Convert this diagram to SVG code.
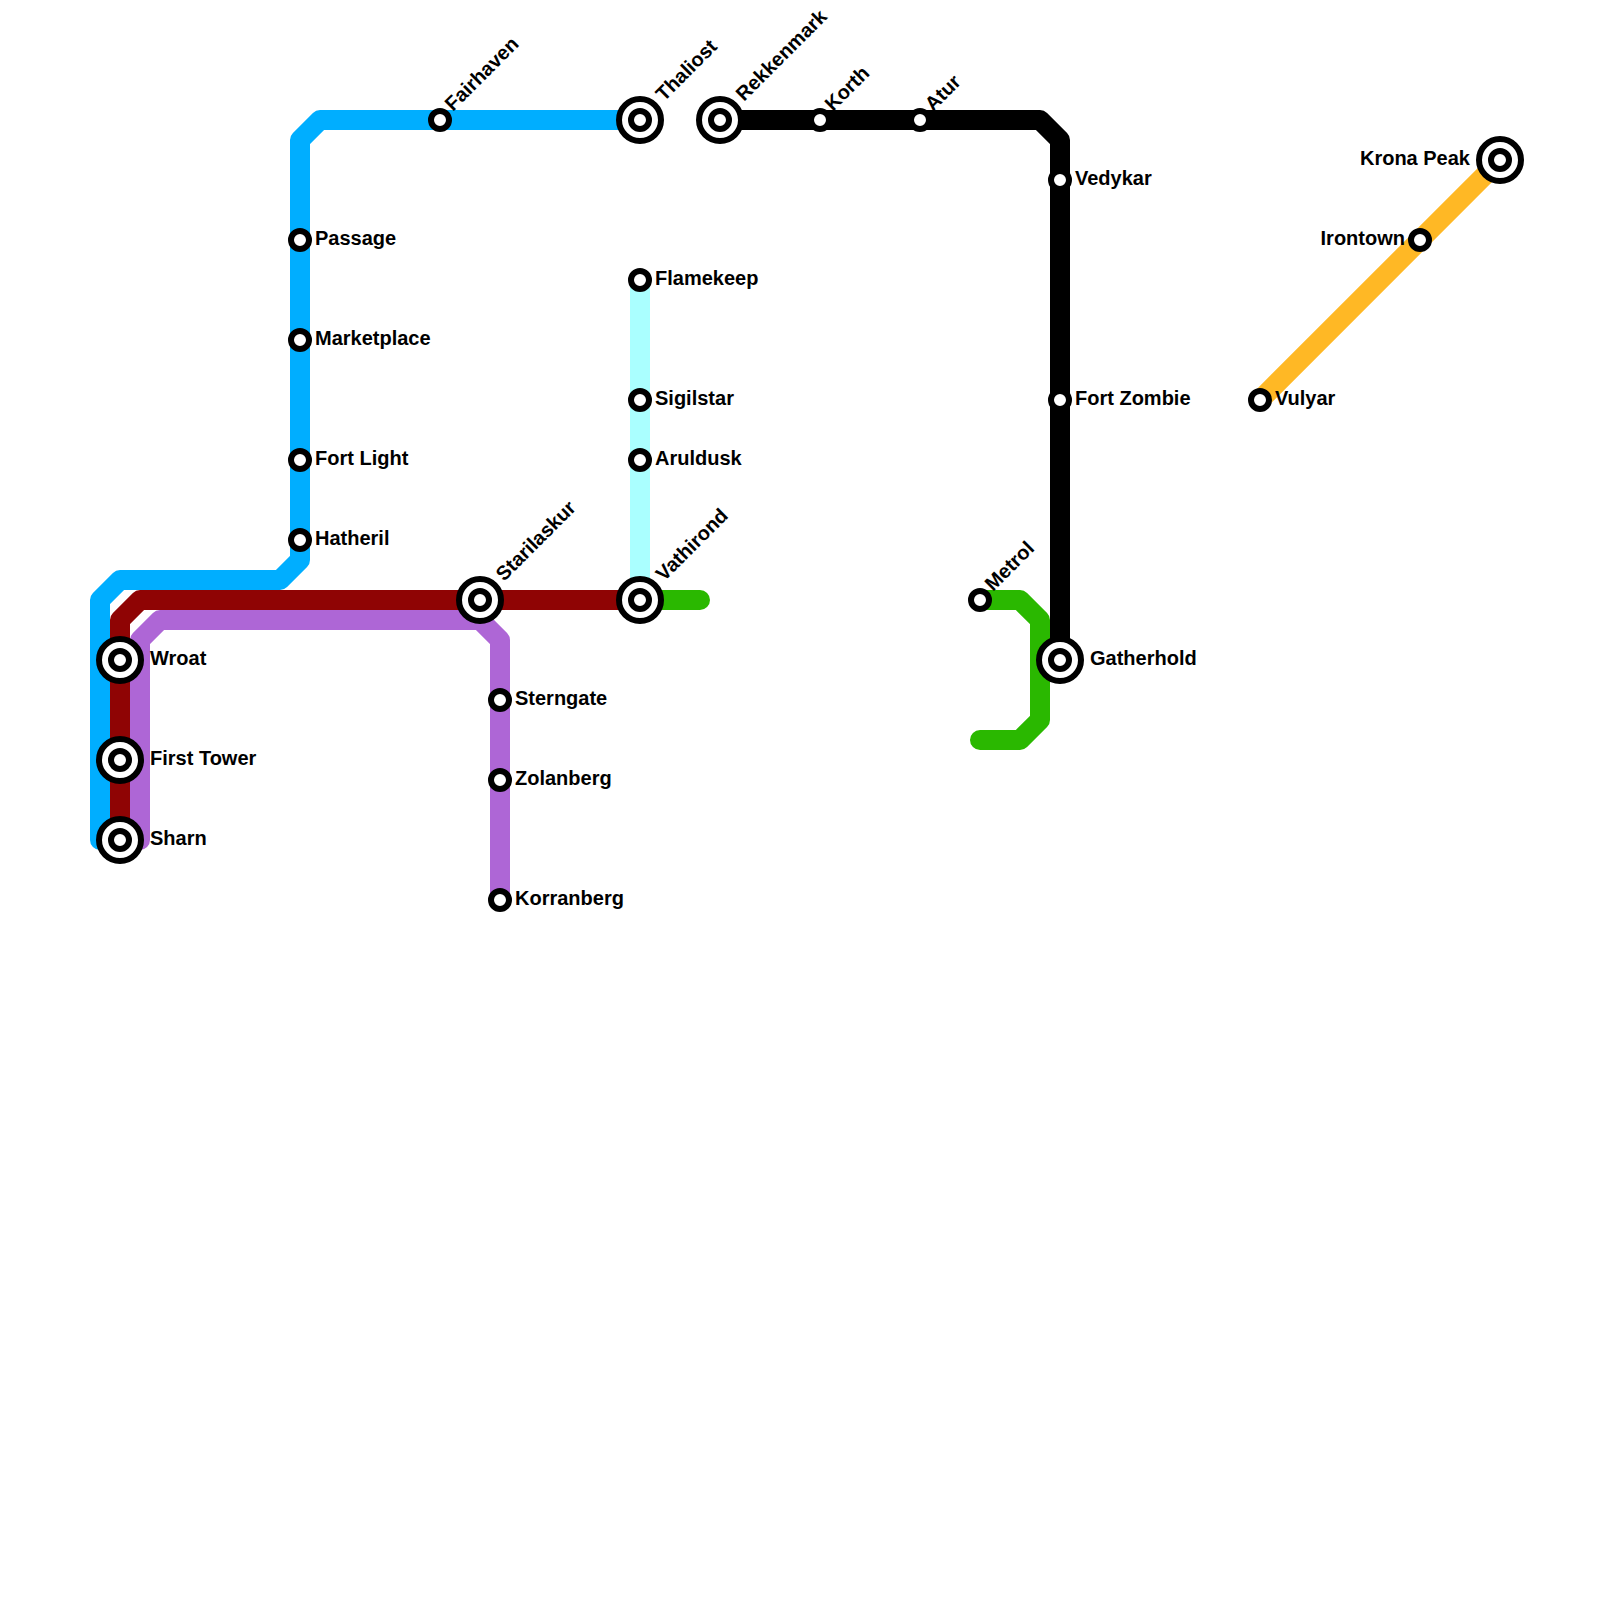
<svg xmlns="http://www.w3.org/2000/svg" width="1600" height="1600" viewBox="0 0 1600 1600">
<style>
.l{fill:none;stroke-width:20;stroke-linecap:round;stroke-linejoin:round}
.s{fill:#fff;stroke:#000;stroke-width:6}
text{font-family:"Liberation Sans",Arial,sans-serif;font-weight:700;font-size:20px;fill:#000}
.e{text-anchor:end}
</style>
<defs>
<g id="st"><circle class="s" r="9"/></g>
<g id="ix"><circle class="s" r="21"/><circle class="s" r="9"/></g>
</defs>
<rect width="1600" height="1600" fill="#fff"/>
<g id="connectors">
<path class="l" stroke="#00aeff" d="M100 840V600L120 580H280L300 560V140L320 120H640"/>
<path class="l" stroke="#8f0404" d="M120 840V620L140 600H640"/>
<path class="l" stroke="#ae66d6" d="M140 840V640L160 620H480L500 640V900"/>
<path class="l" stroke="#aaffff" d="M640 280V600"/>
<path class="l" stroke="#2ab800" d="M640 600H700"/>
<path class="l" stroke="#2ab800" d="M980 600H1020L1040 620V720L1020 740H980"/>
<path class="l" stroke="#000" d="M720 120H1040L1060 140V660"/>
<path class="l" stroke="#ffb825" d="M1260 400L1500 160"/>
</g>
<g id="fairhaven"><use href="#st" x="440" y="120"/><text transform="translate(453 112) rotate(-45)">Fairhaven</text></g>
<g id="thaliost"><use href="#ix" x="640" y="120"/><text transform="translate(664 102) rotate(-45)">Thaliost</text></g>
<g id="rekkenmark"><use href="#ix" x="720" y="120"/><text transform="translate(744 102) rotate(-45)">Rekkenmark</text></g>
<g id="korth"><use href="#st" x="820" y="120"/><text transform="translate(833 112) rotate(-45)">Korth</text></g>
<g id="atur"><use href="#st" x="920" y="120"/><text transform="translate(933 112) rotate(-45)">Atur</text></g>
<g id="vedykar"><use href="#st" x="1060" y="180"/><text x="1075" y="185">Vedykar</text></g>
<g id="passage"><use href="#st" x="300" y="240"/><text x="315" y="245">Passage</text></g>
<g id="marketplace"><use href="#st" x="300" y="340"/><text x="315" y="345">Marketplace</text></g>
<g id="fort-light"><use href="#st" x="300" y="460"/><text x="315" y="465">Fort Light</text></g>
<g id="hatheril"><use href="#st" x="300" y="540"/><text x="315" y="545">Hatheril</text></g>
<g id="flamekeep"><use href="#st" x="640" y="280"/><text x="655" y="285">Flamekeep</text></g>
<g id="sigilstar"><use href="#st" x="640" y="400"/><text x="655" y="405">Sigilstar</text></g>
<g id="aruldusk"><use href="#st" x="640" y="460"/><text x="655" y="465">Aruldusk</text></g>
<g id="vathirond"><use href="#ix" x="640" y="600"/><text transform="translate(664 582) rotate(-45)">Vathirond</text></g>
<g id="starilaskur"><use href="#ix" x="480" y="600"/><text transform="translate(504 582) rotate(-45)">Starilaskur</text></g>
<g id="sterngate"><use href="#st" x="500" y="700"/><text x="515" y="705">Sterngate</text></g>
<g id="zolanberg"><use href="#st" x="500" y="780"/><text x="515" y="785">Zolanberg</text></g>
<g id="korranberg"><use href="#st" x="500" y="900"/><text x="515" y="905">Korranberg</text></g>
<g id="wroat"><use href="#ix" x="120" y="660"/><text x="150" y="665">Wroat</text></g>
<g id="first-tower"><use href="#ix" x="120" y="760"/><text x="150" y="765">First Tower</text></g>
<g id="sharn"><use href="#ix" x="120" y="840"/><text x="150" y="845">Sharn</text></g>
<g id="metrol"><use href="#st" x="980" y="600"/><text transform="translate(993 592) rotate(-45)">Metrol</text></g>
<g id="fort-zombie"><use href="#st" x="1060" y="400"/><text x="1075" y="405">Fort Zombie</text></g>
<g id="gatherhold"><use href="#ix" x="1060" y="660"/><text x="1090" y="665">Gatherhold</text></g>
<g id="vulyar"><use href="#st" x="1260" y="400"/><text x="1275" y="405">Vulyar</text></g>
<g id="irontown"><use href="#st" x="1420" y="240"/><text class="e" x="1405" y="245">Irontown</text></g>
<g id="krona-peak"><use href="#ix" x="1500" y="160"/><text class="e" x="1470" y="165">Krona Peak</text></g>
</svg>
